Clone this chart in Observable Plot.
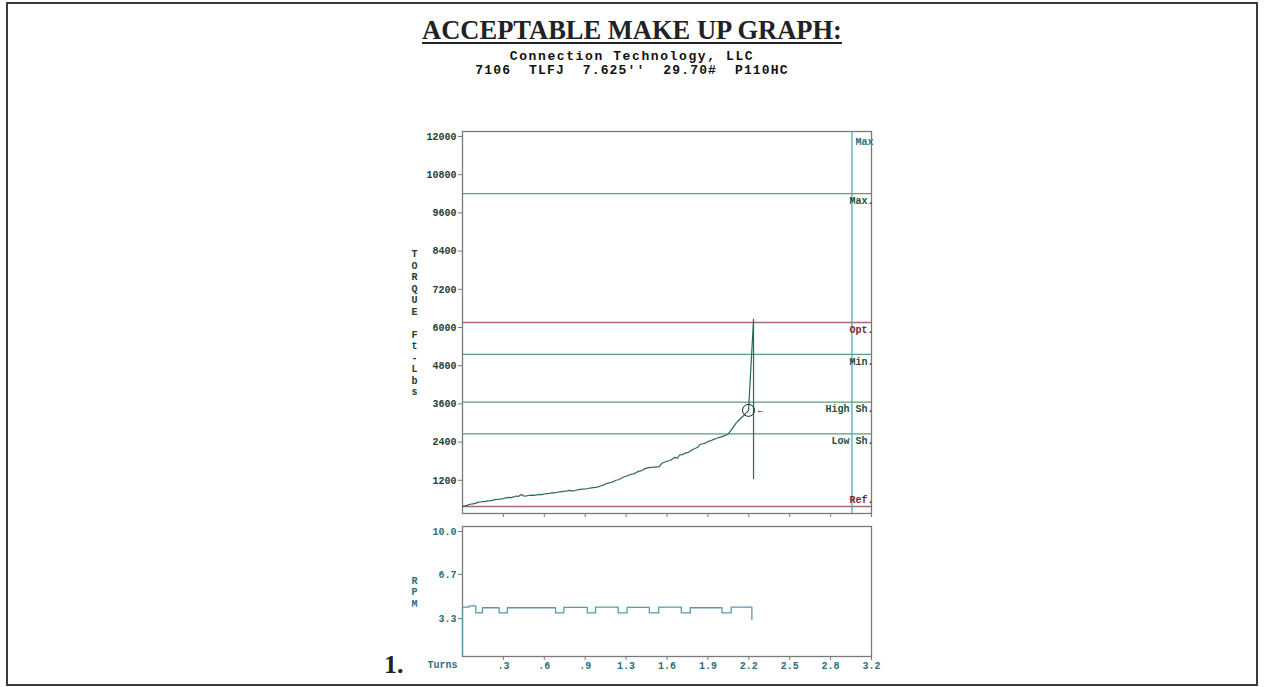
<!DOCTYPE html>
<html>
<head>
<meta charset="utf-8">
<script src="https://cdn.jsdelivr.net/npm/d3@7"></script>
<script src="https://cdn.jsdelivr.net/npm/@observablehq/plot@0.6"></script>
<style>
  html, body { margin: 0; padding: 0; background: #fff; }
  #page { position: relative; width: 1264px; height: 687px; overflow: hidden; background: #fff; }
  #border { position: absolute; left: 6px; top: 2px; width: 1252px; height: 684px; box-sizing: border-box; border: 2px solid #3a3a3a; }
  #title { position: absolute; left: 0; top: 15px; width: 1264px; text-align: center; font-family: "Liberation Serif", serif; font-weight: bold; font-size: 26.5px; color: #222; line-height: 30px; }
  #title span { text-decoration: underline; text-decoration-thickness: 2px; text-underline-offset: 3px; }
  .sub { position: absolute; left: 0; width: 1264px; text-align: center; font-family: "Liberation Mono", monospace; font-weight: bold; font-size: 13px; line-height: 13px; color: #111; white-space: pre; }
  #num { position: absolute; left: 384px; top: 650px; font-family: "Liberation Serif", serif; font-weight: bold; font-size: 26px; color: #222; line-height: 30px; }
  #topChart, #bottomChart { position: absolute; left: 0; }
  #topChart { top: 0; }
  #bottomChart { top: 520px; }
</style>
</head>
<body>
<div id="page">
  <div id="border"></div>
  <div id="title"><span>ACCEPTABLE MAKE UP GRAPH:</span></div>
  <div class="sub" style="top:50px; letter-spacing:1.6px">Connection Technology, LLC</div>
  <div class="sub" style="top:64px; letter-spacing:1.15px">7106  TLFJ  7.625''  29.70#  P110HC</div>
  <div id="topChart"></div>
  <div id="bottomChart"></div>
  <div id="num">1.</div>
</div>
<script>
// ---- data ----
const xTickValues = [0.32, 0.64, 0.96, 1.28, 1.6, 1.92, 2.24, 2.56, 2.88, 3.2];
const xTickLabels = [".3", ".6", ".9", "1.3", "1.6", "1.9", "2.2", "2.5", "2.8", "3.2"];
const torqueTicks = [1200, 2400, 3600, 4800, 6000, 7200, 8400, 9600, 10800, 12000];
const rpmTicks = [3.3, 6.7, 10];
const rpmTickLabels = ["3.3", "6.7", "10.0"];

const limitNames = ["Max.", "Opt.", "Min.", "High Sh.", "Low Sh.", "Ref."];
const limitValues = [10050, 6000, 5000, 3500, 2500, 220];
const maxTurnsName = "Max";
const maxTurns = 3.047;

const torqueTurns = [
  0.00, 0.02, 0.04, 0.06, 0.08, 0.10, 0.12, 0.14, 0.16, 0.18, 0.20, 0.22, 0.24, 0.26, 0.28, 0.30, 0.32, 0.34, 0.36, 0.38,
  0.40, 0.42, 0.44, 0.46, 0.48, 0.50, 0.52, 0.54, 0.56, 0.58, 0.60, 0.62, 0.64, 0.66, 0.68, 0.70, 0.72, 0.74, 0.76, 0.78,
  0.80, 0.82, 0.84, 0.86, 0.88, 0.90, 0.92, 0.94, 0.96, 0.98, 1.00, 1.02, 1.04, 1.06, 1.08, 1.10, 1.12, 1.14, 1.16, 1.18,
  1.20, 1.22, 1.24, 1.26, 1.28, 1.30, 1.32, 1.34, 1.36, 1.38, 1.40, 1.42, 1.44, 1.46, 1.48, 1.50, 1.52, 1.54, 1.56, 1.58,
  1.60, 1.62, 1.64, 1.66, 1.68, 1.70, 1.72, 1.74, 1.76, 1.78, 1.80, 1.82, 1.84, 1.86, 1.88, 1.90, 1.92, 1.94, 1.96, 1.98,
  2.00, 2.02, 2.04, 2.06, 2.08, 2.10, 2.12, 2.14, 2.16, 2.18, 2.20, 2.22, 2.238, 2.277, 2.277];
const torqueValues = [
  229, 240, 262, 290, 300, 318, 350, 362, 372, 380, 398, 405, 420, 445, 440, 458, 470, 490, 505, 498,
  520, 548, 540, 600, 548, 552, 565, 578, 570, 585, 602, 595, 612, 625, 632, 648, 650, 668, 680, 690,
  700, 712, 728, 705, 722, 745, 758, 765, 770, 785, 800, 812, 822, 835, 865, 890, 925, 955, 975, 1000,
  1045, 1060, 1100, 1145, 1170, 1200, 1235, 1245, 1290, 1330, 1340, 1395, 1425, 1440, 1450, 1455, 1462, 1470, 1580, 1610,
  1640, 1665, 1700, 1765, 1740, 1840, 1850, 1895, 1910, 1950, 2010, 2040, 2080, 2175, 2190, 2210, 2265, 2280, 2320, 2350,
  2380, 2400, 2430, 2460, 2500, 2610, 2720, 2840, 2920, 3000, 3080, 3160, 3240, 6100, 1100];

const markTurn = 2.238;
const markTorque = 3240;

const rpmTurns = [0, 0, 0.052, 0.104, 0.156, 0.286, 0.351, 0.728, 0.793, 0.976, 1.041, 1.218, 1.288, 1.462, 1.535, 1.712, 1.782, 2.03, 2.102, 2.264];
const rpmValues = [0, 3.8, 3.9, 3.35, 3.75, 3.35, 3.75, 3.35, 3.78, 3.35, 3.8, 3.35, 3.78, 3.35, 3.8, 3.35, 3.75, 3.35, 3.8, 2.85];

const torqueLetters = "T\nO\nR\nQ\nU\nE\n\nF\nt\n-\nL\nb\ns";
const rpmLetters = "R\nP\nM";
const turnsLabel = "Turns";

// ---- derived tables ----
const limits = limitNames.map((name, i) => ({name, value: limitValues[i]}));
const torque = torqueTurns.map((t, i) => ({turns: t, torque: torqueValues[i]}));
const rpm = rpmTurns.map((t, i) => ({turns: t, rpm: rpmValues[i]}));

// ---- styles ----
const frameColor = "#7a7a7a";
const greenLine = "#5d9c7c";
const redLine = "#a86676";
const greenText = "#234f3a";
const redText = "#7a2636";
const blueLine = "#55a6bb";
const blueText = "#2c6f80";
const curveColor = "#2d6a4c";
const rpmColor = "#5b98aa";
const isRed = d => d.name === "Opt." || d.name === "Ref.";

const W = 1264, L = 462, R = 871;

const torquePlot = Plot.plot({
  width: W, height: 520,
  marginLeft: L, marginRight: W - R, marginTop: 131, marginBottom: 7,
  style: {fontFamily: "Liberation Mono, monospace", fontSize: "10px", fontWeight: "bold", color: "#24402f", background: "transparent"},
  x: {domain: [0, 3.2]},
  y: {domain: [0, 12000]},
  color: {type: "identity"},
  marks: [
    Plot.ruleY(limits, {y: "value", stroke: d => isRed(d) ? redLine : greenLine, strokeWidth: 1.3}),
    Plot.ruleX([maxTurns], {stroke: blueLine, strokeWidth: 1.3}),
    Plot.frame({stroke: frameColor, strokeWidth: 1.3}),
    Plot.text(limits.filter(d => d.name !== "Ref."), {x: 3.2, y: "value", text: "name", textAnchor: "end", dx: 2, dy: 7, fill: d => isRed(d) ? redText : greenText}),
    Plot.text(limits.filter(d => d.name === "Ref."), {x: 3.2, y: "value", text: "name", textAnchor: "end", dx: 2, dy: -7, fill: redText}),
    Plot.text([maxTurnsName], {frameAnchor: "top-right", text: d => d, dx: 2, dy: 6, fill: blueText}),
    Plot.line(torque, {x: "turns", y: "torque", stroke: curveColor, strokeWidth: 1.2}),
    Plot.dot([{turns: markTurn, torque: markTorque}], {x: "turns", y: "torque", r: 6, stroke: "#222", strokeWidth: 1, fill: "none"}),
    Plot.text([{turns: markTurn, torque: markTorque}], {x: "turns", y: "torque", text: () => "←", dx: 12, fontSize: 9, fill: "#222"}),
    Plot.axisY({ticks: torqueTicks, label: null, tickSize: 4, tickPadding: 2, dy: 5, tickFormat: d => String(d), stroke: frameColor}),
    Plot.axisX({ticks: xTickValues, label: null, tickSize: 4, tickFormat: () => "", stroke: frameColor}),
    Plot.text([torqueLetters], {frameAnchor: "left", text: d => d, dx: -48, lineHeight: 1.15, textAnchor: "middle"})
  ]
});
document.getElementById("topChart").appendChild(torquePlot);

const rpmPlot = Plot.plot({
  width: W, height: 167,
  marginLeft: L, marginRight: W - R, marginTop: 6, marginBottom: 31,
  style: {fontFamily: "Liberation Mono, monospace", fontSize: "10px", fontWeight: "bold", color: blueText, background: "transparent"},
  x: {domain: [0, 3.2]},
  y: {domain: [0, 10]},
  marks: [
    Plot.frame({stroke: frameColor, strokeWidth: 1.3}),
    Plot.line(rpm, {x: "turns", y: "rpm", stroke: rpmColor, strokeWidth: 1.3, curve: "step-after"}),
    Plot.axisY({ticks: rpmTicks, label: null, tickSize: 4, tickPadding: 2, dy: 5, tickFormat: (d, i) => rpmTickLabels[i], stroke: frameColor}),
    Plot.axisX({ticks: xTickValues, label: null, tickSize: 4, tickPadding: 1, tickFormat: (d, i) => xTickLabels[i], stroke: frameColor}),
    Plot.text([turnsLabel], {frameAnchor: "bottom-left", text: d => d, dx: -20, dy: 11, textAnchor: "middle"}),
    Plot.text([rpmLetters], {frameAnchor: "left", text: d => d, dx: -48, lineHeight: 1.15, textAnchor: "middle"})
  ]
});
document.getElementById("bottomChart").appendChild(rpmPlot);
</script>
</body>
</html>
